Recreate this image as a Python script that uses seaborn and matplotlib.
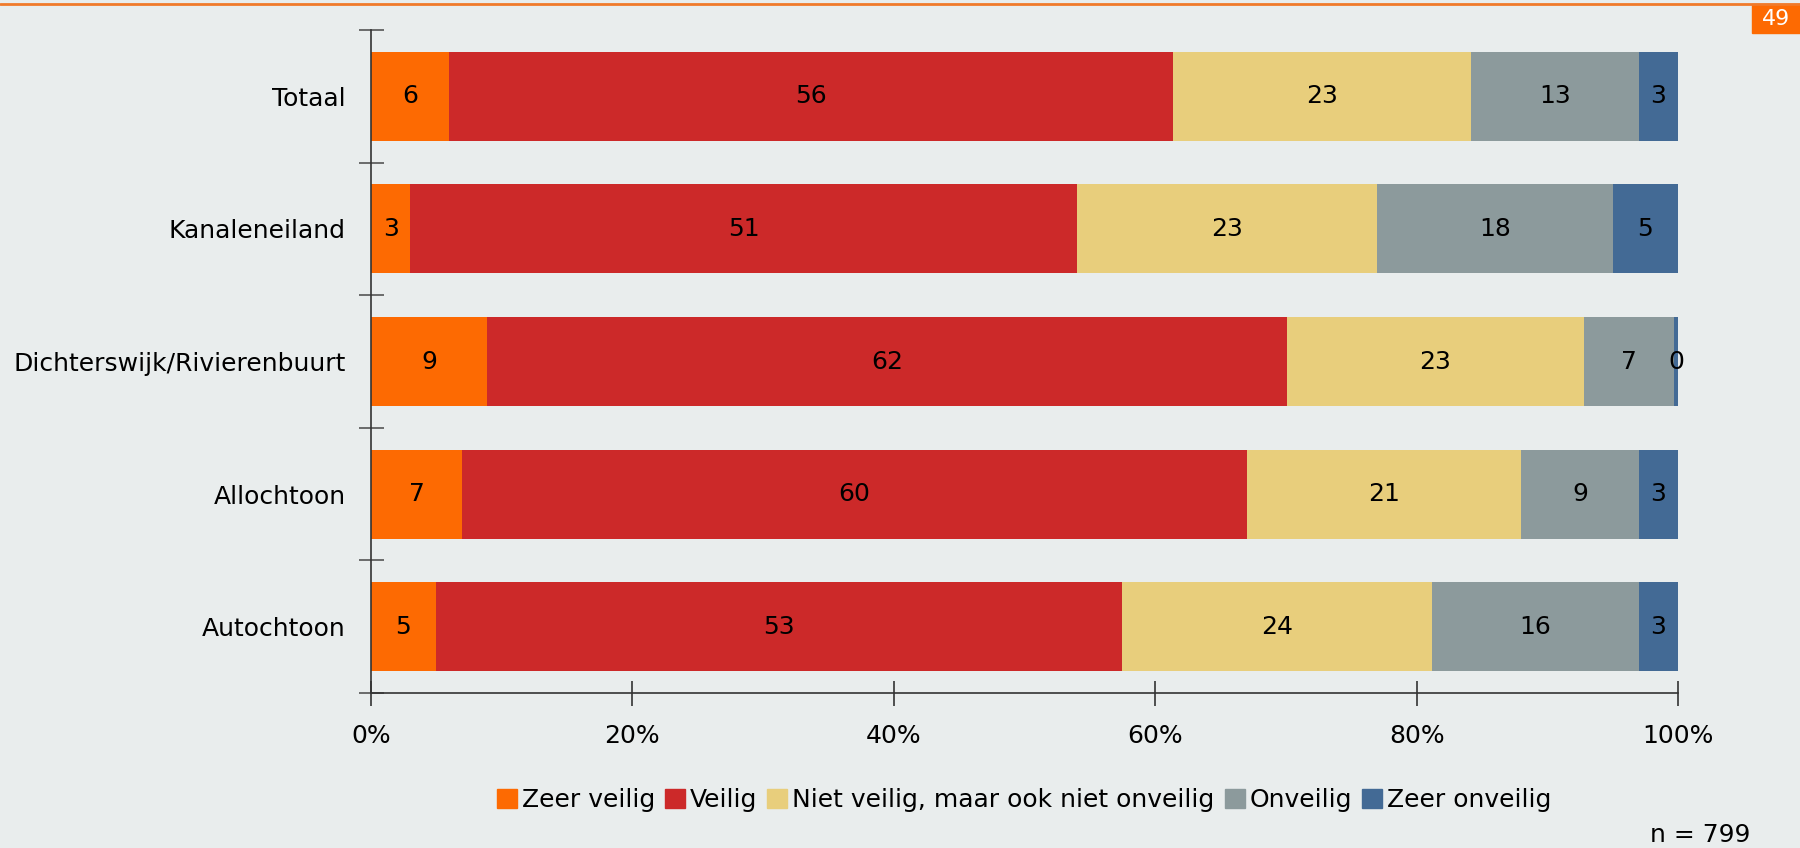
import numpy as np
import pandas as pd
import seaborn as sns
import matplotlib.pyplot as plt
from matplotlib.lines import Line2D
from matplotlib.patches import Rectangle

groups = ["Totaal", "Kanaleneiland", "Dichterswijk/Rivierenbuurt", "Allochtoon", "Autochtoon"]
series = ["Zeer veilig", "Veilig", "Niet veilig, maar ook niet onveilig", "Onveilig", "Zeer onveilig"]
zeer_veilig = [6, 3, 9, 7, 5]
veilig = [56, 51, 62, 60, 53]
neutraal = [23, 23, 23, 21, 24]
onveilig = [13, 18, 7, 9, 16]
zeer_onveilig = [3, 5, 0.3, 3, 3]
colors = ["#FD6A02", "#CC2929", "#E8CE7C", "#8C9A9C", "#436A95"]
x_ticks = [0, 20, 40, 60, 80, 100]
sample_note = "n = 799"
page_number = "49"

bg = "#E9EDED"
sns.set_theme(style="white", rc={"axes.facecolor": bg, "figure.facecolor": bg,
                                 "text.color": "black", "xtick.color": "black",
                                 "ytick.color": "black"})
plt.rcParams["font.family"] = ["DejaVu Sans"]
FS = 18

values = pd.DataFrame(
    [zeer_veilig, veilig, neutraal, onveilig, zeer_onveilig], index=series, columns=groups
).T
share = values.div(values.sum(axis=1), axis=0) * 100
cum = share.cumsum(axis=1)

fig = plt.figure(figsize=(18, 8.48), dpi=100)
ax = fig.add_axes([0.2061, 0.1828, 0.7261, 0.7818])

# stacked bars: draw cumulative totals from the outermost segment inwards
for name, col in reversed(list(zip(series, colors))):
    df = pd.DataFrame({"group": groups, "end": cum[name].values})
    sns.barplot(data=df, x="end", y="group", order=groups, color=col,
                orient="h", width=0.67, ax=ax, saturation=1, edgecolor="none", linewidth=0)

# segment value labels
for i, g in enumerate(groups):
    for name in series:
        mid = cum.loc[g, name] - share.loc[g, name] / 2
        ax.text(mid, i, f"{values.loc[g, name]:.0f}", ha="center", va="center",
                fontsize=FS, color="black")

ax.set_xlim(0, 100)
ax.set_ylim(len(groups) - 0.5, -0.5)
ax.set_xticks(x_ticks)
ax.set_xticklabels([f"{t}%" for t in x_ticks])
ax.set_xlabel("")
ax.set_ylabel("")
ax.set_yticks(np.arange(len(groups)))
ax.set_yticklabels(groups)
ax.set_yticks(np.arange(-0.5, len(groups)), minor=True)

for s in ["top", "right"]:
    ax.spines[s].set_visible(False)
for s in ["left", "bottom"]:
    ax.spines[s].set_color("#333333")
    ax.spines[s].set_linewidth(1.2)

ax.tick_params(axis="x", which="major", direction="inout", length=18, width=1.2,
               color="#333333", labelsize=FS, pad=13, bottom=True)
ax.tick_params(axis="y", which="major", length=0, labelsize=FS, pad=18, left=True)
ax.tick_params(axis="y", which="minor", direction="inout", length=18, width=1.2,
               color="#555555", left=True)

handles = [Rectangle((0, 0), 1, 1, color=c) for c in colors]
fig.legend(handles, series, loc="center", bbox_to_anchor=(1024 / 1800, 0.0566), ncol=5,
           frameon=False, fontsize=FS, handlelength=0.8, handleheight=0.8,
           handletextpad=0.2, columnspacing=0.4)

fig.text(1750 / 1800, 1 - 835 / 848, sample_note, ha="right", va="center",
         fontsize=FS, color="black")

# header rule and page marker
fig.add_artist(Line2D([0, 1], [1 - 4 / 848, 1 - 4 / 848], color="#F07A2A", linewidth=2))
fig.add_artist(Rectangle((1752 / 1800, 1 - 33 / 848), 48 / 1800, 29 / 848,
                         transform=fig.transFigure, color="#FD6A02"))
fig.text(1776 / 1800, 1 - 19 / 848, page_number, ha="center", va="center",
         fontsize=16, color="white")

fig.savefig("out.png", dpi=100)
